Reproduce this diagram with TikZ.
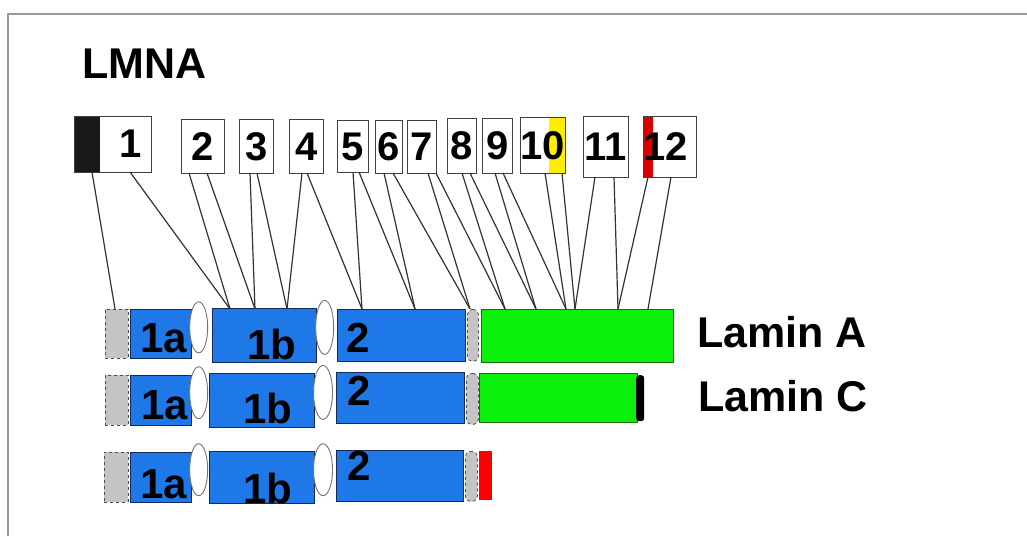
\documentclass[tikz,border=0pt]{standalone}
\usepackage{fontspec}
\setmainfont{Liberation Sans}
\usetikzlibrary{shapes.geometric}
\definecolor{exblue}{RGB}{30,120,232}
\definecolor{exnavy}{RGB}{20,40,90}
\definecolor{exgreen}{RGB}{10,240,10}
\definecolor{exdkgreen}{RGB}{20,110,20}
\definecolor{utrgray}{RGB}{196,196,196}
\tikzset{
  exonbox/.style={draw=black!75, fill=white, line width=0.9pt, inner sep=0pt, anchor=north west,
    font=\fontsize{40}{40}\selectfont\bfseries},
  domlbl/.style={font=\fontsize{42}{42}\selectfont\bfseries, inner sep=0pt, anchor=base west},
  utr/.style={draw=black!70, dashed, fill=utrgray, line width=0.9pt, inner sep=0pt, anchor=north west},
  coil/.style={draw=exnavy, fill=exblue, line width=0.9pt, inner sep=0pt, anchor=north west},
  tail/.style={draw=exdkgreen, fill=exgreen, line width=0.9pt, inner sep=0pt, anchor=north west},
  linker/.style={ellipse, draw=black!55, fill=white, line width=0.9pt, inner sep=0pt, anchor=north west},
  hinge/.style={rectangle, rounded corners=5pt, draw=black!70, dashed, fill=utrgray, line width=0.8pt, inner sep=0pt, anchor=north west},
  map/.style={draw=black!80, line width=1.2pt},
  title/.style={font=\fontsize{43}{43}\selectfont\bfseries, inner sep=0pt, anchor=base west}
}
\begin{document}
\begin{tikzpicture}[x=1pt,y=-1pt]
\useasboundingbox (0,0) rectangle (1027,536);
\fill[white] (0,0) rectangle (1027,536);
% frame
\draw[gray!80, line width=1.6pt] (8,536) -- (8,14) -- (1027,14);

% gene name
\node[title] (gene) at (82,78) {LMNA};

% exons of the gene
\node[exonbox, minimum width=77pt, minimum height=56pt] (e1) at (74,116) {};
\fill[black!90] (74.5,116.5) rectangle (100,171.5);
\draw[black!75, line width=0.9pt] (74,116) rectangle (151,172);
\node[font=\fontsize{40}{40}\selectfont\bfseries, inner sep=0pt] (e1t) at (131,144) {1};
\node[exonbox, minimum width=43pt, minimum height=54pt] (e2) at (181,119) {2};
\node[exonbox, minimum width=34pt, minimum height=54pt] (e3) at (239,119) {3};
\node[exonbox, minimum width=34pt, minimum height=54pt] (e4) at (289,119) {4};
\node[exonbox, minimum width=31pt, minimum height=52pt] (e5) at (337,120) {5};
\node[exonbox, minimum width=27pt, minimum height=53pt] (e6) at (375,120) {6};
\node[exonbox, minimum width=29pt, minimum height=53pt] (e7) at (407,120) {7};
\node[exonbox, minimum width=29pt, minimum height=55pt] (e8) at (447,118) {8};
\node[exonbox, minimum width=30pt, minimum height=55pt] (e9) at (482,118) {9};
\node[exonbox, minimum width=45pt, minimum height=56pt] (e10) at (520,117) {};
\fill[yellow!95!orange] (549,117.5) rectangle (565,172.5);
\node[exonbox, draw=none, fill=none, minimum width=45pt, minimum height=56pt] (e10t) at (520,117) {10};
\node[exonbox, minimum width=45pt, minimum height=61pt] (e11) at (583,116) {11};
\node[exonbox, minimum width=53pt, minimum height=61pt] (e12) at (643,116) {};
\fill[red!85!black] (643.5,116.5) rectangle (653,176.5);
\node[exonbox, draw=none, fill=none, minimum width=53pt, minimum height=61pt] (e12t) at (639,116) {12};

% Lamin A
\node[utr, minimum width=23pt, minimum height=49pt] (a0) at (105,309) {};
\node[coil, minimum width=61pt, minimum height=49pt] (a1) at (130,309) {};
\node[linker, minimum width=18pt, minimum height=51pt] (a2) at (192,309) {};
\node[coil, minimum width=104pt, minimum height=54pt] (a3) at (212,308) {};
\node[linker, minimum width=18pt, minimum height=54pt] (a4) at (318,308) {};
\node[coil, minimum width=128pt, minimum height=52pt] (a5) at (337,309) {};
\node[hinge, minimum width=11pt, minimum height=52pt] (a6) at (467,309) {};
\node[tail, minimum width=192pt, minimum height=53pt] (a7) at (481,309) {};
\node[domlbl] (a1t) at (140,352) {1a};
\node[domlbl] (a3t) at (247,359) {1b};
\node[domlbl] (a5t) at (346,352) {2};
\node[title] (la) at (697,347) {Lamin A};

% Lamin C
\node[utr, minimum width=23pt, minimum height=50pt] (c0) at (105,375) {};
\node[coil, minimum width=61pt, minimum height=50pt] (c1) at (130,375) {};
\node[linker, minimum width=18pt, minimum height=52pt] (c2) at (192,374) {};
\node[coil, minimum width=105pt, minimum height=54pt] (c3) at (209,373) {};
\node[linker, minimum width=19pt, minimum height=54pt] (c4) at (316,373) {};
\node[coil, minimum width=128pt, minimum height=51pt] (c5) at (336,372) {};
\node[hinge, minimum width=12pt, minimum height=51pt] (c6) at (466,373) {};
\node[tail, minimum width=158pt, minimum height=49pt] (c7) at (479,373) {};
\node[rectangle, rounded corners=3pt, fill=black, inner sep=0pt, minimum width=8pt, minimum height=46pt, anchor=north west] (c8) at (636,375) {};
\node[domlbl] (c1t) at (141,419) {1a};
\node[domlbl] (c3t) at (243,423) {1b};
\node[domlbl] (c5t) at (347,405) {2};
\node[title] (lc) at (698,411) {Lamin C};

% truncated product
\node[utr, minimum width=24pt, minimum height=50pt] (p0) at (104,452) {};
\node[coil, minimum width=61pt, minimum height=50pt] (p1) at (130,452) {};
\node[linker, minimum width=18pt, minimum height=52pt] (p2) at (192,451) {};
\node[coil, minimum width=105pt, minimum height=52pt] (p3) at (209,451) {};
\node[linker, minimum width=19pt, minimum height=52pt] (p4) at (316,451) {};
\node[coil, minimum width=127pt, minimum height=51pt] (p5) at (336,450) {};
\node[hinge, minimum width=12pt, minimum height=50pt] (p6) at (465,451) {};
\node[fill=red, inner sep=0pt, minimum width=13pt, minimum height=49pt, anchor=north west] (p7) at (479,451) {};
\node[domlbl] (p1t) at (140,498) {1a};
\node[domlbl] (p3t) at (243,503) {1b};
\node[domlbl] (p5t) at (347,480) {2};

% exon boundaries on Lamin A
\foreach \n/\x in {0/115,1/230,2/255,3/287,4/362,5/415,6/470,7/505,8/536,9/566,10/575,11/618,12/648}
  \coordinate (j\n) at (\x,309);
% exon edges
\coordinate (s1a) at (92,172);  \coordinate (s1b) at (130,172);
\coordinate (s2a) at (189,173); \coordinate (s2b) at (207,173);
\coordinate (s3a) at (250,173); \coordinate (s3b) at (257,173);
\coordinate (s4a) at (302,173); \coordinate (s4b) at (307,173);
\coordinate (s5a) at (353,172); \coordinate (s5b) at (359,172);
\coordinate (s6a) at (384,173); \coordinate (s6b) at (393,173);
\coordinate (s7a) at (428,173); \coordinate (s7b) at (436,173);
\coordinate (s8a) at (462,173); \coordinate (s8b) at (470,173);
\coordinate (s9a) at (495,173); \coordinate (s9b) at (503,173);
\coordinate (s10a) at (545,173); \coordinate (s10b) at (562,173);
\coordinate (s11a) at (595,177); \coordinate (s11b) at (614,177);
\coordinate (s12a) at (648,177); \coordinate (s12b) at (671,177);

\foreach \k [evaluate=\k as \p using int(\k-1)] in {1,...,12}
  \draw[map] (s\k a) -- (j\p) (s\k b) -- (j\k);
\end{tikzpicture}
\end{document}
